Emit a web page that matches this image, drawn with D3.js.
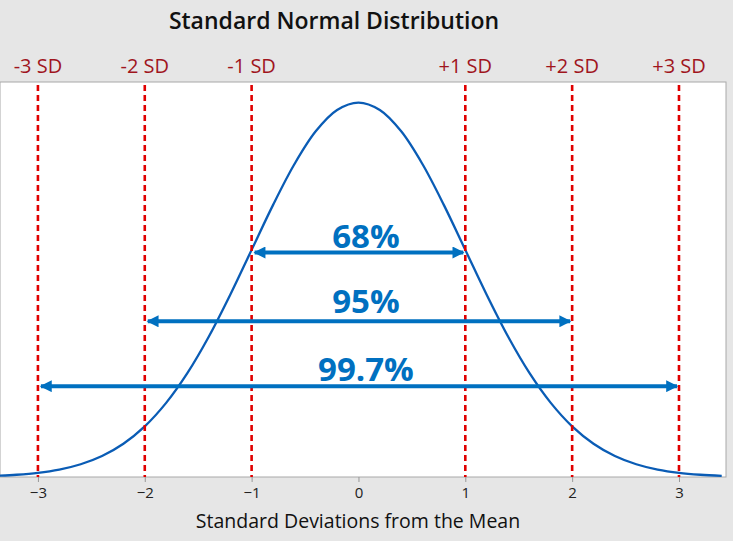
<!DOCTYPE html>
<html><head><meta charset="utf-8">
<script src="https://cdn.jsdelivr.net/npm/d3@7"></script>
<style>html,body{margin:0;padding:0;background:#e6e6e6;}svg{display:block;}</style>
</head><body>
<svg id="c" width="733" height="541"></svg>
<script>
// Data
const curveX = [-3.4,-3.2,-3.0,-2.8,-2.6,-2.4,-2.2,-2.0,-1.8,-1.6,-1.4,-1.2,-1.0,-0.8,-0.6,-0.4,-0.2,0,0.2,0.4,0.6,0.8,1.0,1.2,1.4,1.6,1.8,2.0,2.2,2.4,2.6,2.8,3.0,3.2,3.4];
const curveY = [0.0012,0.0024,0.0044,0.0079,0.0136,0.0224,0.0355,0.0540,0.0790,0.1109,0.1497,0.1942,0.2420,0.2897,0.3332,0.3683,0.3910,0.3989,0.3910,0.3683,0.3332,0.2897,0.2420,0.1942,0.1497,0.1109,0.0790,0.0540,0.0355,0.0224,0.0136,0.0079,0.0044,0.0024,0.0012];
const sdValues = [-3,-2,-1,1,2,3];
const sdLabels = ["-3 SD","-2 SD","-1 SD","+1 SD","+2 SD","+3 SD"];
const tickValues = [-3,-2,-1,0,1,2,3];
const rangeLabels = ["68%","95%","99.7%"];
const rangeSD = [1,2,3];
const rangeLevel = [0.2392,0.1659,0.0968];

const svg = d3.select("#c");
const L=0, R=726, T=82, B=477;
const x = d3.scaleLinear().domain([-3.355,3.44]).range([L,R]);
const y = d3.scaleLinear().domain([0,0.3985]).range([B,103]);

svg.append("rect").attr("x",L).attr("y",T).attr("width",R-L).attr("height",B-T)
  .attr("fill","#fff").attr("stroke","#a8a8a8").attr("stroke-width",1);

const defs = svg.append("defs");
defs.append("clipPath").attr("id","clip").append("rect").attr("x",L).attr("y",T).attr("width",R-L).attr("height",B-T);
defs.append("marker").attr("id","ah").attr("viewBox","0 0 10 10").attr("refX",9).attr("refY",5)
  .attr("markerWidth",3.6).attr("markerHeight",3).attr("markerUnits","strokeWidth").attr("orient","auto-start-reverse")
  .append("path").attr("d","M0,0L10,5L0,10z").attr("fill","#0070c0");

// curve
const pts = curveX.map((v,i)=>[v,curveY[i]]);
svg.append("path").datum(pts).attr("clip-path","url(#clip)")
  .attr("d",d3.line().x(d=>x(d[0])).y(d=>y(d[1])).curve(d3.curveCatmullRom))
  .attr("fill","none").attr("stroke","#0a5cb5").attr("stroke-width",2.3);

// SD lines
svg.selectAll(".sd").data(sdValues).join("line")
  .attr("x1",d=>x(d)).attr("x2",d=>x(d)).attr("y1",T+3).attr("y2",B)
  .attr("stroke","#e00000").attr("stroke-width",2.6).attr("stroke-dasharray","6,4");
svg.selectAll(".sdl").data(sdValues).join("text")
  .attr("x",d=>x(d)).attr("y",73).attr("text-anchor","middle")
  .attr("font-family","'Open Sans',sans-serif").attr("font-size",20).attr("fill","#a0151d")
  .text((d,i)=>sdLabels[i]);

// range arrows
const gaps=[5,8,5];
rangeSD.forEach((s,i)=>{
  const yy = y(rangeLevel[i]);
  svg.append("line").attr("x1",x(-s)+3).attr("x2",x(s)-2).attr("y1",yy).attr("y2",yy)
    .attr("stroke","#0070c0").attr("stroke-width",4)
    .attr("marker-start","url(#ah)").attr("marker-end","url(#ah)");
  svg.append("text").attr("x",x(0.07)).attr("y",yy-gaps[i]).attr("text-anchor","middle")
    .attr("font-family","'Open Sans',sans-serif").attr("font-weight","bold").attr("font-size",33)
    .attr("fill","#0070c0").text(rangeLabels[i]);
});

// axis
const ax = svg.append("g").attr("transform",`translate(0,${B})`)
  .call(d3.axisBottom(x).tickValues(tickValues).tickSize(5).tickSizeOuter(0).tickFormat(d3.format("d")));
ax.select(".domain").remove();
ax.selectAll("line").attr("stroke","#999");
ax.selectAll("text").attr("font-family","'Open Sans',sans-serif").attr("font-size",15).attr("fill","#222").attr("dy","0.85em");

svg.append("text").attr("x",358).attr("y",528).attr("text-anchor","middle")
  .attr("font-family","'Open Sans',sans-serif").attr("font-size",19.5).attr("fill","#111")
  .text("Standard Deviations from the Mean");
svg.append("text").attr("x",334).attr("y",29).attr("text-anchor","middle")
  .attr("font-family","'Open Sans',sans-serif").attr("font-weight","600").attr("font-size",23).attr("fill","#111")
  .text("Standard Normal Distribution");
</script>
</body></html>
